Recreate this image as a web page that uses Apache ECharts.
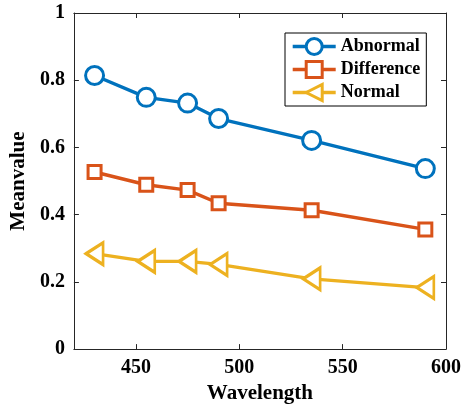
<!DOCTYPE html>
<html>
<head>
<meta charset="utf-8">
<script src="https://cdn.jsdelivr.net/npm/echarts@6/dist/echarts.min.js"></script>
<style>
  html, body { margin: 0; padding: 0; background: #fff; }
</style>
</head>
<body>
<div id="chart" style="width: 464px; height: 409px"></div>
<script>
// data
const wavelength = [430, 455, 475, 490, 535, 590]
const abnormal = [0.814, 0.749, 0.732, 0.686, 0.621, 0.537]
const difference = [0.527, 0.489, 0.473, 0.434, 0.413, 0.356]
const normal = [0.284, 0.261, 0.261, 0.252, 0.209, 0.183]
const xTicks = [450, 500, 550, 600]
const seriesNames = ['Abnormal', 'Difference', 'Normal']

const myColor = ['#0072BD', '#D95319', '#EDB120']
const font = 'Liberation Serif'
const axisColor = '#262626'

const chart = echarts.init(document.getElementById('chart'))

function pairs(ys) {
  return wavelength.map((x, i) => [x, ys[i]])
}

function mkSeries(name, ys, color, symbol, size, rotate) {
  return {
    name: name,
    type: 'line',
    data: pairs(ys),
    symbol: symbol,
    symbolSize: size,
    symbolRotate: rotate,
    showAllSymbol: true,
    lineStyle: { color: color, width: 3.4 },
    itemStyle: { color: '#fff', borderColor: color, borderWidth: 3 },
    emphasis: { disabled: true },
    animation: false,
  }
}

const option = {
  animation: false,
  grid: { left: 71, right: 16, top: 13, bottom: 57 },
  legend: {
    orient: 'vertical',
    left: 285,
    top: 33,
    data: seriesNames,
    itemWidth: 43,
    itemHeight: 20,
    itemGap: 4,
    padding: [4, 6, 4, 6],
    borderColor: '#000',
    borderWidth: 1,
    backgroundColor: '#fff',
    lineStyle: { width: 3.4 },
    itemStyle: { borderWidth: 3 },
    textStyle: { fontFamily: font, fontWeight: 'bold', fontSize: 18, color: '#000' },
  },
  xAxis: [
    {
      type: 'value',
      min: 420,
      max: 600,
      name: 'Wavelength',
      nameLocation: 'middle',
      nameGap: 31,
      nameTextStyle: { fontFamily: font, fontWeight: 'bold', fontSize: 21, color: '#000' },
      axisLine: { show: true, lineStyle: { color: axisColor, width: 1 } },
      axisTick: { show: true, inside: true, length: 5, customValues: xTicks, lineStyle: { color: axisColor } },
      axisLabel: { customValues: xTicks, margin: 9, fontFamily: font, fontWeight: 'bold', fontSize: 20, color: '#000' },
      splitLine: { show: false },
    },
    {
      type: 'value',
      position: 'top',
      min: 420,
      max: 600,
      axisLine: { show: true, onZero: false, lineStyle: { color: axisColor, width: 1 } },
      axisTick: { show: true, inside: true, length: 5, customValues: xTicks, lineStyle: { color: axisColor } },
      axisLabel: { show: false },
      splitLine: { show: false },
    },
  ],
  yAxis: [
    {
      type: 'value',
      min: 0,
      max: 1,
      interval: 0.2,
      name: 'Meanvalue',
      nameLocation: 'middle',
      nameGap: 41,
      nameTextStyle: { fontFamily: font, fontWeight: 'bold', fontSize: 21, color: '#000' },
      axisLine: { show: true, lineStyle: { color: axisColor, width: 1 } },
      axisTick: { show: true, inside: true, length: 5, lineStyle: { color: axisColor } },
      axisLabel: { margin: 9, fontFamily: font, fontWeight: 'bold', fontSize: 20, color: '#000' },
      splitLine: { show: false },
    },
    {
      type: 'value',
      position: 'right',
      min: 0,
      max: 1,
      interval: 0.2,
      axisLine: { show: true, onZero: false, lineStyle: { color: axisColor, width: 1 } },
      axisTick: { show: true, inside: true, length: 5, lineStyle: { color: axisColor } },
      axisLabel: { show: false },
      splitLine: { show: false },
    },
  ],
  series: [
    mkSeries(seriesNames[0], abnormal, myColor[0], 'circle', 18, 0),
    mkSeries(seriesNames[1], difference, myColor[1], 'rect', 13, 0),
    mkSeries(seriesNames[2], normal, myColor[2], 'triangle', [22, 17], 90),
  ],
}

chart.setOption(option)
window.addEventListener('resize', function () {
  chart.resize()
})
</script>
</body>
</html>
